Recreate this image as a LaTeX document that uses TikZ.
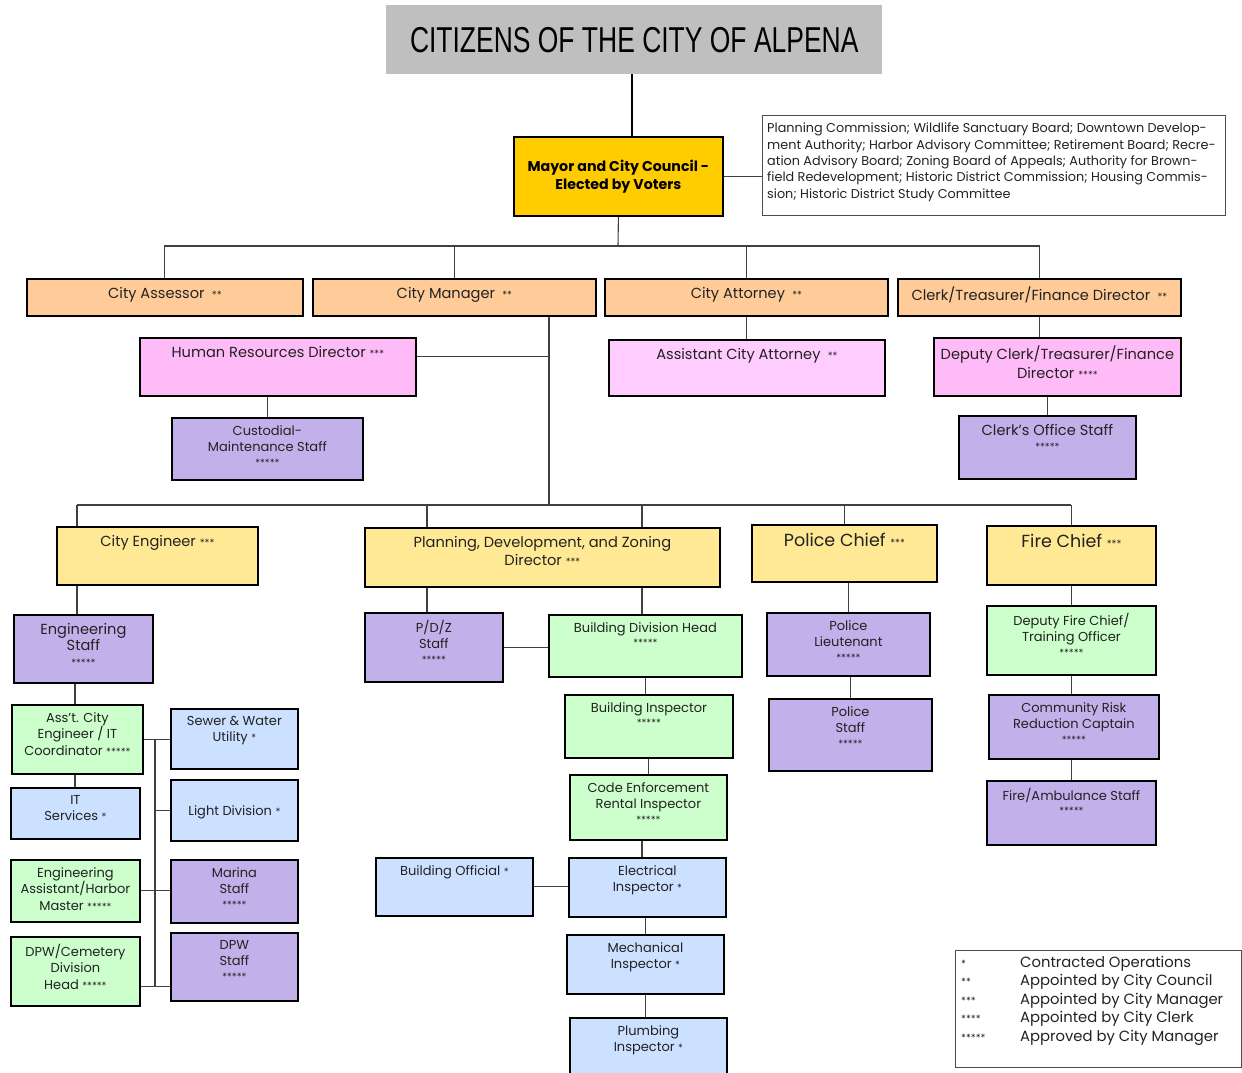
\documentclass[tikz,border=0pt]{standalone}
\usepackage{fontspec}
\setmainfont{Poppins}
\newfontfamily\titlefont[FakeStretch=0.735]{Liberation Sans}
\usetikzlibrary{positioning, calc}

\definecolor{peach}{HTML}{FFCC99}
\definecolor{orchid}{HTML}{FFBBF7}
\definecolor{blush}{HTML}{FFCCFF}
\definecolor{lavender}{HTML}{C2B0EA}
\definecolor{butter}{HTML}{FFE994}
\definecolor{mint}{HTML}{CCFFCC}
\definecolor{sky}{HTML}{CCE0FF}
\definecolor{gold}{HTML}{FFCC00}
\definecolor{slate}{HTML}{BFBFBF}
\definecolor{ink}{HTML}{222222}

\newcommand{\orgfont}{\fontsize{13}{16.5}\selectfont}
\newcommand{\headfont}{\fontsize{14.6}{18.5}\selectfont}
\newcommand{\st}[1]{{\fontsize{10}{10}\selectfont #1}}

\tikzset{
  orgbox/.style={draw=black, line width=1.8pt, anchor=north west, inner sep=0pt},
  boxtext/.style={anchor=north, yshift=-8pt, align=center, inner sep=0pt, text=ink, font=\orgfont},
  headtext/.style={boxtext, yshift=-1pt, font=\headfont},
  link/.style={draw=black!75, line width=1.1pt},
  thickline/.style={draw=black, line width=2.2pt}
}

\begin{document}
\begin{tikzpicture}[x=1pt, y=-1pt]
\useasboundingbox (0,0) rectangle (1242,1072);

% Top level
\node[anchor=north west, fill=slate, minimum width=496, minimum height=69, inner sep=0pt,
  font=\titlefont\fontsize{36}{40}\selectfont] (title) at (386,5) {CITIZENS OF THE CITY OF ALPENA};
\node[orgbox, fill=gold, minimum width=209, minimum height=79, align=center,
  font=\bfseries\fontsize{14.2}{18}\selectfont] (mayor) at (513,136) {Mayor and City Council -\\Elected by Voters};
\node[anchor=north west, draw=black!70, line width=0.8pt, minimum width=463, minimum height=100,
  inner sep=0pt] (boards) at (762,115) {};
\node[anchor=north west, align=left, inner sep=0pt, text=ink,
  font=\fontsize{12.8}{16.3}\selectfont] (boardtext) at (767,123)
  {Planning Commission; Wildlife Sanctuary Board; Downtown Develop-\\
   ment Authority; Harbor Advisory Committee; Retirement Board; Recre-\\
   ation Advisory Board; Zoning Board of Appeals; Authority for Brown-\\
   field Redevelopment; Historic District Commission; Housing Commis-\\
   sion; Historic District Study Committee};

% Appointed by council
\node[orgbox, fill=peach, minimum width=276, minimum height=37, label={[headtext]north:City Assessor\enspace\st{**}}] (assessor) at (26,278) {};
\node[orgbox, fill=peach, minimum width=283, minimum height=37, label={[headtext]north:City Manager\enspace\st{**}}] (manager) at (312,278) {};
\node[orgbox, fill=peach, minimum width=283, minimum height=37, label={[headtext]north:City Attorney\enspace\st{**}}] (attorney) at (604,278) {};
\node[orgbox, fill=peach, minimum width=283, minimum height=37, label={[headtext]north:Clerk/Treasurer/Finance Director\enspace\st{**}}] (clerk) at (897,278) {};

\node[orgbox, fill=orchid, minimum width=276, minimum height=58, label={[headtext]north:Human Resources Director \st{***}}] (hr) at (139,337) {};
\node[orgbox, fill=blush, minimum width=276, minimum height=56, label={[headtext]north:Assistant City Attorney\enspace\st{**}}] (asstatty) at (608,339) {};
\node[orgbox, fill=orchid, minimum width=247, minimum height=58, label={[headtext]north:{Deputy Clerk/Treasurer/Finance\\Director \st{****}}}] (deputy) at (933,337) {};
\node[orgbox, fill=lavender, minimum width=191, minimum height=62, label={[boxtext]north:{Custodial-\\Maintenance Staff\\[-2pt]\st{*****}}}] (custodial) at (171,417) {};
\node[orgbox, fill=lavender, minimum width=177, minimum height=63, label={[headtext]north:{Clerk's Office Staff\\[-3pt]\st{*****}}}] (clerkstaff) at (958,415) {};

% Department heads
\node[orgbox, fill=butter, minimum width=201, minimum height=58, label={[headtext]north:City Engineer \st{***}}] (engineer) at (56,526) {};
\node[orgbox, fill=butter, minimum width=355, minimum height=59, label={[headtext]north:{Planning, Development, and Zoning\\Director \st{***}}}] (pdz) at (364,527) {};
\node[orgbox, fill=butter, minimum width=185, minimum height=57, label={[headtext, font=\fontsize{17.5}{20}\selectfont]north:Police Chief \st{***}}] (police) at (751,524) {};
\node[orgbox, fill=butter, minimum width=169, minimum height=59, label={[headtext, font=\fontsize{17.5}{20}\selectfont]north:Fire Chief \st{***}}] (fire) at (986,525) {};

% Engineering
\node[orgbox, fill=lavender, minimum width=139, minimum height=68, label={[headtext]north:{Engineering\\[-2pt]Staff\\[-3pt]\st{*****}}}] (engstaff) at (13,614) {};
\node[orgbox, fill=mint, minimum width=131, minimum height=69, label={[boxtext]north:{Ass't. City\\Engineer / IT\\Coordinator \st{*****}}}] (asst) at (11,704) {};
\node[orgbox, fill=sky, minimum width=129, minimum height=51, label={[boxtext]north:{IT\\Services \st{*}}}] (itserv) at (10,787) {};
\node[orgbox, fill=mint, minimum width=129, minimum height=62, label={[boxtext]north:{Engineering\\Assistant/Harbor\\Master \st{*****}}}] (harbor) at (10,859) {};
\node[orgbox, fill=mint, minimum width=129, minimum height=69, label={[boxtext]north:{DPW/Cemetery\\Division\\Head \st{*****}}}] (cemetery) at (10,936) {};
\node[orgbox, fill=sky, minimum width=127, minimum height=60, label={[boxtext]north:{Sewer \& Water\\Utility \st{*}}}] (sewer) at (170,708) {};
\node[orgbox, fill=sky, minimum width=127, minimum height=61, label={[boxtext, yshift=-18pt]north:Light Division \st{*}}] (light) at (170,779) {};
\node[orgbox, fill=lavender, minimum width=127, minimum height=63, label={[boxtext]north:{Marina\\Staff\\[-2pt]\st{*****}}}] (marina) at (170,859) {};
\node[orgbox, fill=lavender, minimum width=127, minimum height=68, label={[boxtext]north:{DPW\\Staff\\[-2pt]\st{*****}}}] (dpwstaff) at (170,932) {};

% Planning, development and zoning
\node[orgbox, fill=lavender, minimum width=138, minimum height=69, label={[boxtext]north:{P/D/Z\\Staff\\[-2pt]\st{*****}}}] (pdzstaff) at (364,612) {};
\node[orgbox, fill=mint, minimum width=193, minimum height=62, label={[boxtext]north:{Building Division Head\\[-2pt]\st{*****}}}] (bdh) at (548,614) {};
\node[orgbox, fill=mint, minimum width=168, minimum height=63, label={[boxtext]north:{Building Inspector\\[-2pt]\st{*****}}}] (bldginsp) at (564,694) {};
\node[orgbox, fill=mint, minimum width=157, minimum height=65, label={[boxtext]north:{Code Enforcement\\Rental Inspector\\[-2pt]\st{*****}}}] (code) at (569,774) {};
\node[orgbox, fill=sky, minimum width=157, minimum height=59, label={[boxtext]north:{Electrical\\Inspector \st{*}}}] (elec) at (568,857) {};
\node[orgbox, fill=sky, minimum width=157, minimum height=58, label={[boxtext]north:Building Official \st{*}}] (official) at (375,857) {};
\node[orgbox, fill=sky, minimum width=157, minimum height=59, label={[boxtext]north:{Mechanical\\Inspector \st{*}}}] (mech) at (566,934) {};
\node[orgbox, fill=sky, minimum width=157, minimum height=65, label={[boxtext]north:{Plumbing\\Inspector \st{*}}}] (plumb) at (569,1017) {};

% Police
\node[orgbox, fill=lavender, minimum width=163, minimum height=63, label={[boxtext]north:{Police\\Lieutenant\\[-2pt]\st{*****}}}] (lieut) at (766,612) {};
\node[orgbox, fill=lavender, minimum width=163, minimum height=72, label={[boxtext]north:{Police\\Staff\\[-2pt]\st{*****}}}] (pstaff) at (768,698) {};

% Fire
\node[orgbox, fill=mint, minimum width=169, minimum height=69, label={[boxtext]north:{Deputy Fire Chief/\\Training Officer\\[-2pt]\st{*****}}}] (deputyfire) at (986,605) {};
\node[orgbox, fill=lavender, minimum width=170, minimum height=64, label={[boxtext]north:{Community Risk\\Reduction Captain\\[-2pt]\st{*****}}}] (crr) at (988,694) {};
\node[orgbox, fill=lavender, minimum width=169, minimum height=64, label={[boxtext]north:{Fire/Ambulance Staff\\[-2pt]\st{*****}}}] (ambulance) at (986,780) {};

% Legend
\node[anchor=north west, draw=black!70, line width=0.8pt, minimum width=286, minimum height=117,
  inner sep=0pt] (legend) at (955,950) {};
\node[anchor=north west, inner sep=0pt, text=ink, font=\fontsize{14.8}{18.5}\selectfont] (legendtext) at (961,954)
  {\begin{tabular}{@{}p{47pt}l@{}}
    \st{*} & Contracted Operations\\
    \st{**} & Appointed by City Council\\
    \st{***} & Appointed by City Manager\\
    \st{****} & Appointed by City Clerk\\
    \st{*****} & Approved by City Manager
  \end{tabular}};

% Connectors
\coordinate (bus1) at (618,246);
\coordinate (trunk) at (549,505);
\coordinate (bus2w) at (77,505);
\coordinate (pdzl) at (427,505);
\coordinate (pdzr) at (642,505);
\coordinate (ubus) at (155,739);

\draw[thickline] ([xshift=-2]title.south) -- ([xshift=-2]title.south |- mayor.north);
\draw[link] (mayor.east) -- (mayor.east -| boards.west);
\draw[link] (mayor.south) -- (bus1);
\draw[link] (assessor.north) -- (assessor.north |- bus1) -- (clerk.north |- bus1) -- (clerk.north);
\foreach \n in {manager, attorney}
  \draw[link] (\n.north) -- (\n.north |- bus1);
\draw[link] (attorney.south) -- (attorney.south |- asstatty.north);
\draw[link] (clerk.south) -- (clerk.south |- deputy.north);
\draw[link] (clerkstaff.north |- deputy.south) -- (clerkstaff.north);
\draw[link] (custodial.north |- hr.south) -- (custodial.north);
\draw[link] (trunk |- manager.south) -- (trunk);
\draw[link] ([yshift=10]hr.east) -- ([yshift=10]hr.east -| trunk);

\draw[link] (bus2w) -- (bus2w -| fire.north);
\draw[link] (bus2w) -- (bus2w |- engineer.north);
\draw[link] (pdzl) -- (pdzl |- pdz.north);
\draw[link] (pdzr) -- (pdzr |- pdz.north);
\draw[link] (police.north |- bus2w) -- (police.north);
\draw[link] (fire.north |- bus2w) -- (fire.north);

% Engineering lines
\draw[link] (bus2w |- engineer.south) -- (bus2w |- engstaff.north);
\draw[link] ([xshift=-2]bus2w |- engstaff.south) -- ([xshift=-2]bus2w |- asst.north);
\draw[link] ([xshift=-2]bus2w |- asst.south) -- ([xshift=-2]bus2w |- itserv.north);
\draw[link] (asst.east) -- (asst.east -| sewer.west);
\draw[link] (ubus) -- ([yshift=-15]cemetery.east -| ubus);
\draw[link] (light.west) -- (light.west -| ubus);
\draw[link] (harbor.east) -- (harbor.east -| marina.west);
\draw[link] ([yshift=-15]cemetery.east) -- ([yshift=-15]cemetery.east -| dpwstaff.west);

% Planning lines
\draw[link] (pdzl |- pdz.south) -- (pdzl |- pdzstaff.north);
\draw[link] (pdzr |- pdz.south) -- (pdzr |- bdh.north);
\draw[link] (pdzstaff.east) -- (pdzstaff.east -| bdh.west);
\draw[link] (bdh.south) -- (bdh.south |- bldginsp.north);
\draw[link] (bldginsp.south) -- (bldginsp.south |- code.north);
\draw[link] (pdzr |- code.south) -- (pdzr |- elec.north);
\draw[link] (official.east) -- (official.east -| elec.west);
\draw[link] (mech.north |- elec.south) -- (mech.north);
\draw[link] (mech.south) -- (mech.south |- plumb.north);

% Police and fire lines
\draw[link] (lieut.north |- police.south) -- (lieut.north);
\draw[link] (pstaff.north |- lieut.south) -- (pstaff.north);
\draw[link] (deputyfire.south |- fire.south) -- (deputyfire.north);
\draw[link] (deputyfire.south) -- (deputyfire.south |- crr.north);
\draw[link] (ambulance.north |- crr.south) -- (ambulance.north);

\end{tikzpicture}
\end{document}
